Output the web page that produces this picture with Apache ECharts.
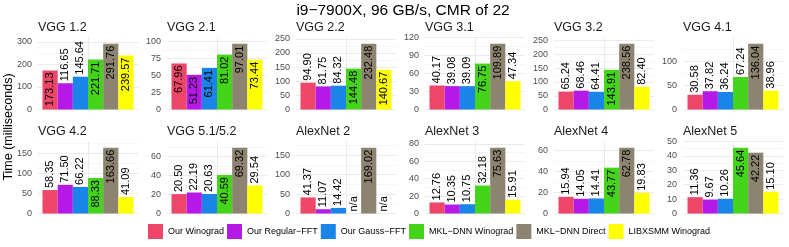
<!DOCTYPE html>
<html><head><meta charset="utf-8">
<script src="https://cdn.jsdelivr.net/npm/echarts@6/dist/echarts.min.js"></script>
<style>html,body{margin:0;padding:0;background:#fff}#c{width:789px;height:247px}</style>
</head><body><div id="c"></div>
<script>
const chartTitle = 'i9−7900X, 96 GB/s, CMR of 22';
const yTitle = 'Time (milliseconds)';
const algorithms = ['Our Winograd', 'Our Regular−FFT', 'Our Gauss−FFT', 'MKL−DNN Winograd', 'MKL−DNN Direct', 'LIBXSMM Winograd'];
const layers = ['VGG 1.2', 'VGG 2.1', 'VGG 2.2', 'VGG 3.1', 'VGG 3.2', 'VGG 4.1', 'VGG 4.2', 'VGG 5.1/5.2', 'AlexNet 2', 'AlexNet 3', 'AlexNet 4', 'AlexNet 5'];
const ourWinograd   = [173.13, 67.96, 94.90, 40.17, 65.24, 30.58, 58.35, 20.50, 41.37, 12.76, 15.94, 11.36];
const ourRegularFFT = [116.65, 51.23, 81.75, 39.08, 68.46, 37.82, 71.50, 22.19, 11.07, 10.35, 14.05, 9.67];
const ourGaussFFT   = [145.64, 61.41, 84.32, 39.09, 64.41, 36.24, 66.22, 20.63, 14.42, 10.75, 14.41, 10.26];
const mklWinograd   = [221.71, 81.02, 144.48, 76.75, 143.91, 67.24, 88.33, 40.59, null, 32.18, 43.77, 45.64];
const mklDirect     = [291.76, 97.01, 232.48, 109.89, 238.56, 136.04, 163.66, 69.32, 169.02, 75.63, 62.78, 42.22];
const libxsmm       = [239.57, 73.44, 140.67, 47.34, 82.40, 38.96, 41.09, 29.54, null, 15.91, 19.83, 15.10];
const yTicks = [
  [0, 100, 200, 300], [0, 25, 50, 75, 100], [0, 50, 100, 150, 200, 250], [0, 30, 60, 90, 120],
  [0, 50, 100, 150, 200, 250], [0, 50, 100], [0, 50, 100, 150], [0, 20, 40, 60],
  [0, 50, 100, 150], [0, 20, 40, 60, 80], [0, 20, 40, 60], [0, 10, 20, 30, 40, 50]
];

const seriesValues = [ourWinograd, ourRegularFFT, ourGaussFFT, mklWinograd, mklDirect, libxsmm];
const colors = ['#EE4669', '#B419E6', '#1B84E8', '#44D41A', '#8C8470', '#FFFF00'];
const FONT = 'Liberation Sans';

const panelLeft0 = 38, colStep = 129, panelW = 100, panelH = 76;
const rowTops = [37, 141];

const grids = [], xAxes = [], yAxes = [], series = [], graphics = [];
let xi = 0;
layers.forEach((layer, k) => {
  const row = Math.floor(k / 6), col = k % 6;
  const left = panelLeft0 + col * colStep, top = rowTops[row];
  grids.push({ left: left, top: top, width: panelW, height: panelH });
  const vals = seriesValues.map(a => a[k]);
  const M = Math.max(...vals.filter(v => v != null));
  const ticks = yTicks[k];
  const step = ticks[1] - ticks[0];
  const lines = [];
  ticks.forEach(t => { lines.push(t); lines.push(t + step / 2); });
  const yMin = -0.0525 * M, yMax = 1.1025 * M;
  yAxes.push({
    type: 'value', gridIndex: k, min: yMin, max: yMax,
    axisLine: { show: false },
    axisTick: { show: false, customValues: lines.filter(v => v >= yMin && v <= yMax) },
    axisLabel: { customValues: ticks, fontSize: 9, color: '#4D4D4D', margin: 6, fontFamily: FONT },
    splitLine: { show: true, lineStyle: { color: ['#EBEBEB', '#F5F5F5'], width: 1 } }
  });
  xAxes.push({
    type: 'category', gridIndex: k, data: [layer],
    axisLine: { show: false }, axisTick: { show: false }, axisLabel: { show: false }, splitLine: { show: false }
  });
  const catIdx = xi++;
  xAxes.push({
    type: 'value', gridIndex: k, min: -1, max: 1, position: 'bottom',
    axisLine: { show: false }, axisTick: { show: false, customValues: [0] }, axisLabel: { show: false },
    splitLine: { show: true, lineStyle: { color: '#EBEBEB', width: 1 } }
  });
  xi++;
  algorithms.forEach((alg, j) => {
    const v = seriesValues[j][k];
    const inside = v != null && v > 0.5 * M;
    series.push({
      type: 'bar', name: alg, xAxisIndex: catIdx, yAxisIndex: k,
      barGap: '0%', barCategoryGap: '9%',
      itemStyle: { color: colors[j] },
      z: 3,
      data: [{
        value: v == null ? 0 : v,
        label: {
          show: true, rotate: 90,
          position: inside ? 'insideTop' : 'top',
          align: inside ? 'right' : 'left', verticalAlign: 'middle',
          distance: 2, fontSize: 11, color: '#000', fontFamily: FONT,
          formatter: () => v == null ? 'n/a' : v.toFixed(2)
        }
      }],
      emphasis: { disabled: true }, silent: true, animation: false
    });
  });
  graphics.push({
    type: 'text', x: left, y: top - 9.5,
    style: { text: layer, font: '12.5px "Liberation Sans"', fill: '#1A1A1A', textAlign: 'left', textVerticalAlign: 'middle' }
  });
});

graphics.push({
  type: 'text', x: 403, y: 11,
  style: { text: chartTitle, font: '15.5px "Liberation Sans"', fill: '#000', textAlign: 'center', textVerticalAlign: 'middle' }
});
graphics.push({
  type: 'text', x: 8.5, y: 127, rotation: Math.PI / 2,
  style: { text: yTitle, font: '12.5px "Liberation Sans"', fill: '#000', textAlign: 'center', textVerticalAlign: 'middle' }
});

const chart = echarts.init(document.getElementById('c'), null, { renderer: 'canvas' });
chart.setOption({
  animation: false,
  backgroundColor: '#fff',
  textStyle: { fontFamily: FONT },
  grid: grids, xAxis: xAxes, yAxis: yAxes, series: series,
  graphic: graphics,
  legend: {
    data: algorithms, bottom: 3, left: 143, icon: 'rect', padding: 5,
    itemWidth: 15, itemHeight: 15, itemGap: 3,
    textStyle: { fontSize: 9, color: '#000', fontFamily: FONT },
    selectedMode: false
  }
});
</script></body></html>
